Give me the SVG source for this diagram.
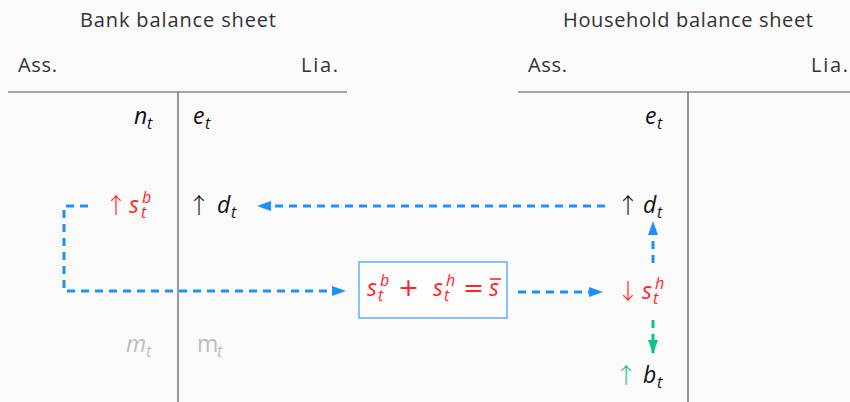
<svg xmlns="http://www.w3.org/2000/svg" width="850" height="402" viewBox="0 0 850 402">
  <defs>
    <marker id="arrBlue" viewBox="0 0 14 10" refX="13" refY="5" markerWidth="14" markerHeight="10" markerUnits="userSpaceOnUse" orient="auto">
      <path d="M0,0 L14,5 L0,10 z" fill="#1e8fff"/>
    </marker>
    <marker id="arrGreen" viewBox="0 0 14 10" refX="13" refY="5" markerWidth="14" markerHeight="10" markerUnits="userSpaceOnUse" orient="auto">
      <path d="M0,0 L14,5 L0,10 z" fill="#17c08b"/>
    </marker>
  </defs>
  <style>
    .title { font-family: "Open Sans", "Liberation Sans", sans-serif; font-size: 20px; fill: #333; }
    .rule { stroke: #555; stroke-width: 1.2; fill: none; }
    .m { font-family: "Open Sans", "DejaVu Sans", sans-serif; font-style: italic; font-size: 23px; fill: #111; }
    .sub { font-size: 16px; }
    .op { font-family: "DejaVu Sans", sans-serif; font-style: normal; font-size: 25px; }
    .arw { font-family: "Noto Sans CJK SC", "DejaVu Sans", sans-serif; font-style: normal; font-size: 22px; font-weight: 300; }
    .red { fill: #ff2424; }
    .gray { fill: #bdbdbd; }
    .up { font-style: normal; }
    .flow { stroke: #1e8fff; stroke-width: 3; stroke-dasharray: 8 6; fill: none; }
    .flowg { stroke: #17c08b; stroke-width: 3; stroke-dasharray: 8 6; fill: none; }
  </style>
  <rect width="850" height="402" fill="#fafafa"/>

  <!-- bank T-account -->
  <g id="bank">
    <text class="title" x="80" y="27" textLength="196">Bank balance sheet</text>
    <text class="title" x="18" y="72" textLength="39">Ass.</text>
    <text class="title" x="301" y="72" textLength="37">Lia.</text>
    <line class="rule" x1="8" y1="92" x2="347" y2="92"/>
    <line class="rule" x1="178" y1="92" x2="178" y2="402"/>
  </g>

  <!-- household T-account -->
  <g id="household">
    <text class="title" x="563" y="27" textLength="250">Household balance sheet</text>
    <text class="title" x="528" y="72" textLength="39">Ass.</text>
    <text class="title" x="811" y="72" textLength="37">Lia.</text>
    <line class="rule" x1="518" y1="92" x2="850" y2="92"/>
    <line class="rule" x1="688" y1="92" x2="688" y2="402"/>
  </g>

  <!-- entries -->
  <g id="bank-nt"><text class="m" x="134" y="124">n<tspan class="sub" x="147" dy="5">t</tspan></text></g>
  <g id="bank-et"><text class="m" x="193" y="124">e<tspan class="sub" x="205" dy="5">t</tspan></text></g>
  <g id="hh-et"><text class="m" x="645" y="124">e<tspan class="sub" x="657" dy="5">t</tspan></text></g>

  <g id="bank-sb"><text class="m red" x="105" y="213"><tspan class="arw">↑</tspan><tspan x="129">s</tspan><tspan class="sub" x="142" dy="-10">b</tspan><tspan class="sub" x="141" dy="15">t</tspan></text></g>
  <g id="bank-dt"><text class="m" x="188" y="213"><tspan class="arw">↑</tspan><tspan x="217">d</tspan><tspan class="sub" x="231" dy="5">t</tspan></text></g>
  <g id="hh-dt"><text class="m" x="617" y="213"><tspan class="arw">↑</tspan><tspan x="643">d</tspan><tspan class="sub" x="657" dy="5">t</tspan></text></g>

  <g id="constraint">
    <rect x="359" y="262" width="148" height="56" fill="#fdfdfd" stroke="#4aa3ff" stroke-width="1.3"/>
    <text class="m red" x="367" y="296">s<tspan class="sub" x="380" dy="-10">b</tspan><tspan class="sub" x="378" dy="15">t</tspan><tspan class="op" x="398" dy="-5">+</tspan><tspan x="433">s</tspan><tspan class="sub" x="446" dy="-10">h</tspan><tspan class="sub" x="444" dy="15">t</tspan><tspan class="op" x="463" dy="-5">=</tspan><tspan x="489">s</tspan></text>
    <line x1="490" y1="279" x2="501" y2="279" stroke="#ff2424" stroke-width="1.6"/>
  </g>

  <g id="hh-sh"><text class="m red" x="617" y="299"><tspan class="arw">↓</tspan><tspan x="642">s</tspan><tspan class="sub" x="655" dy="-10">h</tspan><tspan class="sub" x="653" dy="15">t</tspan></text></g>

  <g id="bank-mt-a"><text class="m gray" x="126" y="352">m<tspan class="sub" x="146" dy="5">t</tspan></text></g>
  <g id="bank-mt-l"><text class="m gray up" x="197" y="352">m<tspan class="sub" style="font-style:italic" x="217" dy="5">t</tspan></text></g>

  <g id="hh-bt"><text class="m" x="615" y="383"><tspan class="arw" fill="#17c08b">↑</tspan><tspan x="643">b</tspan><tspan class="sub" x="657" dy="5">t</tspan></text></g>

  <!-- flows -->
  <g id="connectors">
    <path class="flow" d="M88,206 H64 V291 H345" marker-end="url(#arrBlue)"/>
    <path class="flow" d="M605,206 H258" marker-end="url(#arrBlue)"/>
    <path class="flow" d="M518,292 H602" marker-end="url(#arrBlue)"/>
    <path class="flow" d="M653,263 V222" marker-end="url(#arrBlue)"/>
    <path class="flowg" d="M653,320 V353" marker-end="url(#arrGreen)"/>
  </g>
</svg>
